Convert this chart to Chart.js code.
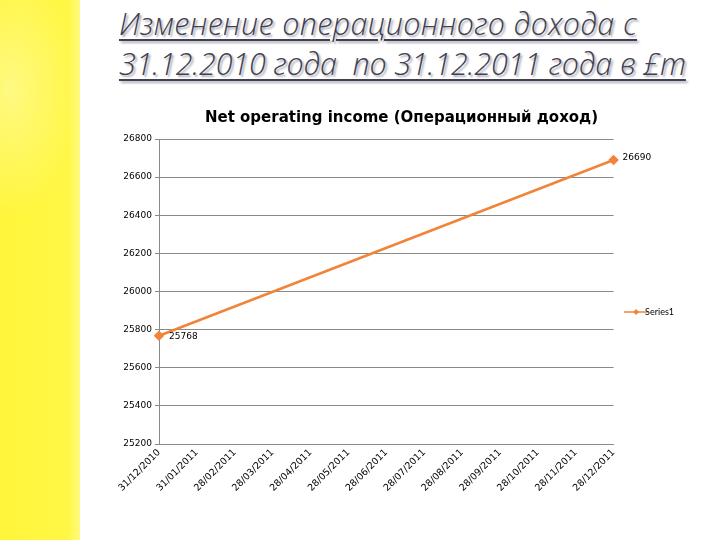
<!DOCTYPE html>
<html><head><meta charset="utf-8">
<script src="https://cdn.jsdelivr.net/npm/chart.js@4/dist/chart.umd.min.js"></script>
<style>
html,body{margin:0;padding:0;background:#fff;}
#wrap{position:relative;width:720px;height:540px;overflow:hidden;background:#fff;}
#strip{position:absolute;left:0;top:0;width:80px;height:540px;
 background:linear-gradient(90deg,#fff53a 0%,#fff745 85%,#fffb80 100%);}
#strip:before{content:"";position:absolute;left:-60px;top:-40px;width:140px;height:260px;border-radius:50%;
 background:radial-gradient(ellipse at center,rgba(255,255,200,0.5),rgba(255,255,200,0) 70%);}
#title{position:absolute;left:119px;top:3px;width:600px;font-family:"Open Sans",sans-serif;font-style:italic;font-weight:300;
 font-size:30.5px;line-height:40px;color:#40404e;text-decoration:underline;text-decoration-thickness:2px;
 text-underline-offset:4px;text-shadow:2px 2px 2px #a8a8b4;}
#title .l1{letter-spacing:0.35px;}
#title .l2{letter-spacing:-0.15px;}
canvas{position:absolute;left:0;top:0;}
</style></head>
<body><div id="wrap"><div id="strip"></div>
<div id="title"><span class="l1">Изменение операционного дохода с</span><br><span class="l2">31.12.2010 года&nbsp; по 31.12.2011 года в £m</span></div>
<canvas id="c" width="720" height="540"></canvas></div>
<script>
const categories = ["31/12/2010","31/01/2011","28/02/2011","28/03/2011","28/04/2011","28/05/2011","28/06/2011","28/07/2011","28/08/2011","28/09/2011","28/10/2011","28/11/2011","28/12/2011"];
const series1 = [25768,null,null,null,null,null,null,null,null,null,null,null,26690];
const seriesName = "Series1";
const chartTitle = "Net operating income (Операционный доход)";
const yMin = 25200, yMax = 26800, yStep = 200;

const ORANGE = "#f0843a";
const mk = document.createElement('canvas'); mk.width = 24; mk.height = 8;
(function(){const g=mk.getContext('2d');g.strokeStyle=ORANGE;g.lineWidth=1.5;g.beginPath();g.moveTo(0,4);g.lineTo(24,4);g.stroke();
 g.fillStyle=ORANGE;g.beginPath();g.moveTo(12,1);g.lineTo(15,4);g.lineTo(12,7);g.lineTo(9,4);g.closePath();g.fill();})();

const dataLabels = {
  id:'dataLabels',
  afterDatasetsDraw(chart){
    const ctx=chart.ctx; const meta=chart.getDatasetMeta(0);
    ctx.save(); ctx.font='9px "DejaVu Sans", sans-serif'; ctx.fillStyle='#000'; ctx.textBaseline='middle';
    meta.data.forEach((pt,i)=>{
      const v=chart.data.datasets[0].data[i]; if(v==null) return;
      ctx.textAlign='left';
      if(i===0){ctx.fillText(String(v),pt.x+10,pt.y+1);}
      else {ctx.fillText(String(v),pt.x+9,pt.y-2);}
    });
    ctx.restore();
  }
};

new Chart(document.getElementById('c'),{
  type:'line',
  data:{labels:categories,datasets:[{label:seriesName,data:series1,borderColor:ORANGE,backgroundColor:ORANGE,
    borderWidth:2.5,pointStyle:'rectRot',pointRadius:3.5,pointBackgroundColor:ORANGE,pointBorderColor:ORANGE,spanGaps:true,tension:0}]},
  options:{
    responsive:false,animation:false,
    layout:{padding:{left:119,right:36,top:109,bottom:25}},
    plugins:{
      title:{display:true,text:chartTitle,color:'#000',font:{family:'"DejaVu Sans", sans-serif',size:15,weight:'bold'},padding:{top:0,bottom:12}},
      legend:{display:true,position:'right',labels:{color:'#000',font:{family:'Lato, sans-serif',size:9},usePointStyle:true,
        boxWidth:24,padding:18,
        generateLabels(chart){return [{text:seriesName,pointStyle:mk,fillStyle:ORANGE,strokeStyle:ORANGE,lineWidth:0,datasetIndex:0,hidden:false}];}}},
      tooltip:{enabled:false}
    },
    scales:{
      x:{offset:false,grid:{display:false,drawTicks:false},border:{display:true,color:'#8a8a8a',width:1},
        ticks:{color:'#000',font:{family:'"DejaVu Sans", sans-serif',size:9.5},minRotation:45,maxRotation:45,autoSkip:false,padding:3},
        afterFit(s){s.height=71;}},
      y:{min:yMin,max:yMax,grid:{color:'#8a8a8a',lineWidth:1,tickLength:4},border:{display:true,color:'#8a8a8a',width:1},
        ticks:{stepSize:yStep,color:'#000',font:{family:'"DejaVu Sans", sans-serif',size:9},padding:3,callback:(v)=>String(v)},
        afterFit(s){s.width=40;}}
    }
  },
  plugins:[dataLabels]
});
</script></body></html>
